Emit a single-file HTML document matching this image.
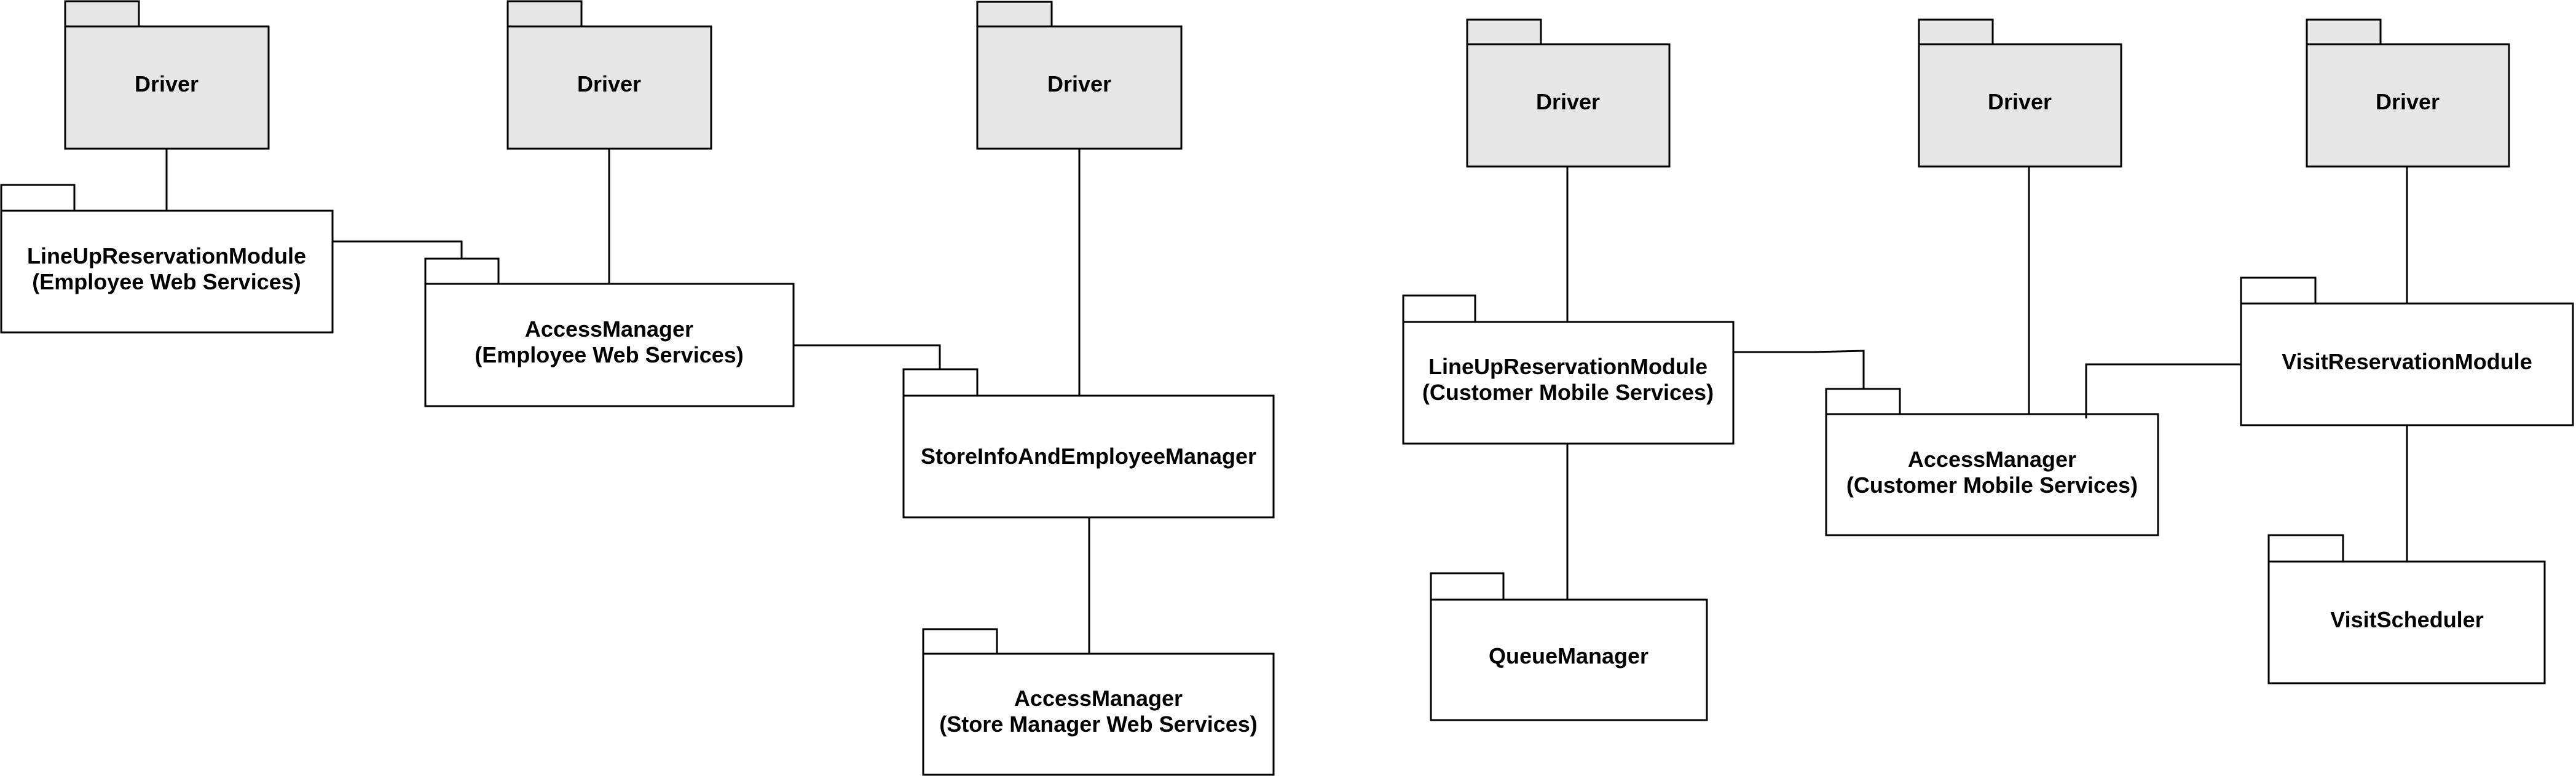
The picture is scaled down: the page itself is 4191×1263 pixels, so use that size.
<!DOCTYPE html>
<html><head><meta charset="utf-8"><style>html,body{margin:0;padding:0;background:#fff}svg{display:block}</style></head>
<body>
<svg width="4191" height="1263" viewBox="0 0 4191 1263" xmlns="http://www.w3.org/2000/svg">
<g stroke="#000" stroke-width="3" fill="none">
<path d="M271 242V343"/>
<path d="M541 393H751V421"/>
<path d="M991 242V462"/>
<path d="M1291 562H1529V601"/>
<path d="M1756 242V644"/>
<path d="M1772 842V1064"/>
<path d="M2550 271V524"/>
<path d="M2550 722V976"/>
<path d="M2820 573H2950L3032 571V633"/>
<path d="M3301 271V674"/>
<path d="M3394 681V593H3646"/>
<path d="M3916 271V494"/>
<path d="M3916 692V914"/>
</g>
<g stroke="#000" stroke-width="3">
<g fill="#e6e6e6">
<rect x="106" y="2" width="120" height="41"/><rect x="106" y="43" width="331" height="199"/>
<rect x="826" y="2" width="120" height="41"/><rect x="826" y="43" width="331" height="199"/>
<rect x="1590" y="3" width="121" height="40"/><rect x="1590" y="43" width="332" height="199"/>
<rect x="2387" y="32" width="120" height="40"/><rect x="2387" y="72" width="329" height="199"/>
<rect x="3122" y="32" width="120" height="40"/><rect x="3122" y="72" width="329" height="199"/>
<rect x="3753" y="32" width="120" height="40"/><rect x="3753" y="72" width="329" height="199"/>
</g>
<g fill="#fff">
<rect x="2" y="301" width="119" height="42"/><rect x="2" y="343" width="539" height="198"/>
<rect x="692" y="421" width="119" height="41"/><rect x="692" y="462" width="599" height="199"/>
<rect x="1470" y="601" width="120" height="43"/><rect x="1470" y="644" width="602" height="198"/>
<rect x="1502" y="1024" width="120" height="40"/><rect x="1502" y="1064" width="570" height="197"/>
<rect x="2283" y="481" width="117" height="43"/><rect x="2283" y="524" width="537" height="198"/>
<rect x="2328" y="933" width="118" height="43"/><rect x="2328" y="976" width="449" height="196"/>
<rect x="2971" y="633" width="120" height="41"/><rect x="2971" y="674" width="540" height="197"/>
<rect x="3646" y="452" width="121" height="42"/><rect x="3646" y="494" width="540" height="198"/>
<rect x="3691" y="871" width="121" height="43"/><rect x="3691" y="914" width="449" height="198"/>
</g>
</g>
<path d="M3394 674V681" stroke="#000" stroke-width="3"/>
<g font-family="Liberation Sans, Arial, sans-serif" font-weight="bold" font-size="36" text-anchor="middle" fill="#000">
<text x="271" y="149">Driver</text>
<text x="991" y="149">Driver</text>
<text x="1756" y="149">Driver</text>
<text x="2551" y="178">Driver</text>
<text x="3286" y="178">Driver</text>
<text x="3917" y="178">Driver</text>
<text x="271" y="429">LineUpReservationModule</text>
<text x="271" y="471">(Employee Web Services)</text>
<text x="991" y="548">AccessManager</text>
<text x="991" y="590">(Employee Web Services)</text>
<text x="1771" y="755">StoreInfoAndEmployeeManager</text>
<text x="1787" y="1149">AccessManager</text>
<text x="1787" y="1191">(Store Manager Web Services)</text>
<text x="2551" y="609">LineUpReservationModule</text>
<text x="2551" y="651">(Customer Mobile Services)</text>
<text x="2552" y="1080">QueueManager</text>
<text x="3241" y="760">AccessManager</text>
<text x="3241" y="802">(Customer Mobile Services)</text>
<text x="3916" y="601">VisitReservationModule</text>
<text x="3916" y="1021">VisitScheduler</text>
</g>
</svg>
</body></html>
